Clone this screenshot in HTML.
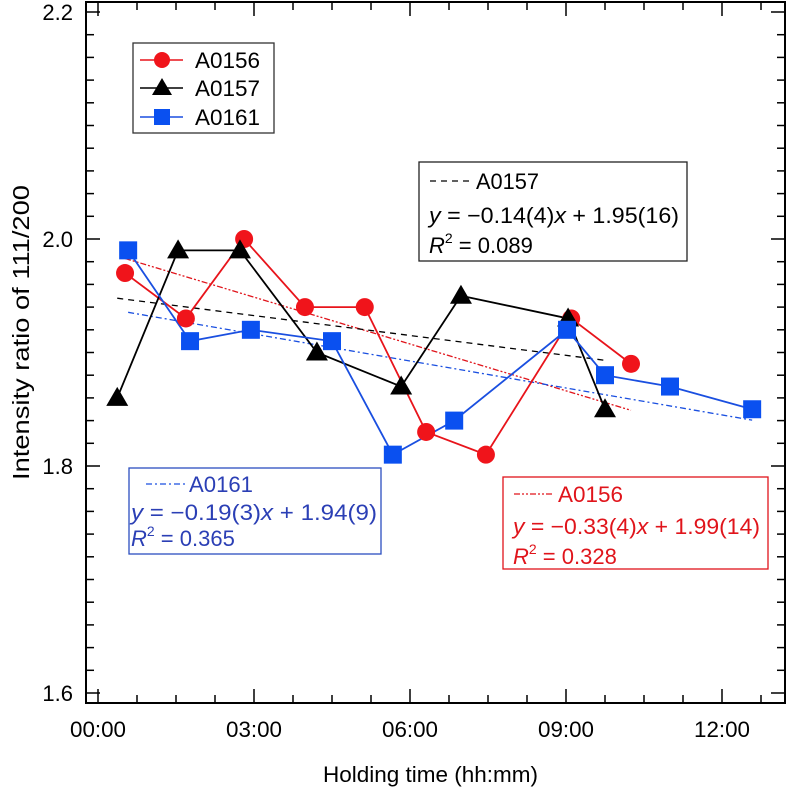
<!DOCTYPE html>
<html><head><meta charset="utf-8"><style>
html,body{margin:0;padding:0;background:#fff;}
svg{display:block;font-family:"Liberation Sans",Arial,sans-serif;}
</style></head><body>
<svg id="chart" width="788" height="788" viewBox="0 0 788 788" xmlns="http://www.w3.org/2000/svg">
<rect x="0" y="0" width="788" height="788" fill="#fff"/>
<g id="grid"></g>
<g id="fits"></g>
<g id="series"></g>
<rect x="86" y="2" width="699" height="701" fill="none" stroke="#000" stroke-width="2"/>
<text x="323" y="782" font-size="22" textLength="215" lengthAdjust="spacingAndGlyphs">Holding time (hh:mm)</text>
<text transform="translate(29,480) rotate(-90)" font-size="23" textLength="295" lengthAdjust="spacingAndGlyphs">Intensity ratio of 111/200</text>

<g>
<rect x="133" y="43" width="141" height="90" fill="#fff" stroke="#333" stroke-width="1.3"/>
<g><line x1="140" y1="60" x2="183" y2="60" stroke="#e8141b" stroke-width="1.5"/><circle cx="162" cy="60" r="8" fill="#f0141b"/><text x="195" y="68" font-size="22" textLength="65" lengthAdjust="spacingAndGlyphs">A0156</text></g>
<g><line x1="140" y1="88" x2="183" y2="88" stroke="#000" stroke-width="1.5"/><polygon points="162,78 172,95 152,95" fill="#000"/><text x="195" y="96" font-size="22" textLength="65" lengthAdjust="spacingAndGlyphs">A0157</text></g>
<g><line x1="140" y1="117" x2="183" y2="117" stroke="#1a4fe0" stroke-width="1.5"/><rect x="154" y="109" width="16" height="16" fill="#0a50f0"/><text x="195" y="125" font-size="22" textLength="65" lengthAdjust="spacingAndGlyphs">A0161</text></g>
</g>

<g>
<rect x="419" y="162" width="268" height="99" fill="#fff" stroke="#222" stroke-width="1.3"/>
<line x1="430" y1="181" x2="470" y2="181" stroke="#000" stroke-width="1.3" stroke-dasharray="6,5"/>
<text x="476" y="189" font-size="22" textLength="63" lengthAdjust="spacingAndGlyphs">A0157</text>
<text x="429" y="223" font-size="22" textLength="250" lengthAdjust="spacingAndGlyphs"><tspan font-style="italic">y</tspan> = −0.14(4)<tspan font-style="italic">x</tspan> + 1.95(16)</text>
<text x="429" y="253" font-size="22"><tspan font-style="italic">R</tspan><tspan font-size="14" dy="-10">2</tspan><tspan dy="10"> = 0.089</tspan></text>
</g>
<g fill="#2b3fb5">
<rect x="129" y="468" width="252" height="86" fill="#fff" stroke="#2b4fc0" stroke-width="1.3"/>
<line x1="146" y1="484" x2="186" y2="484" stroke="#1a4fe0" stroke-width="1.3" stroke-dasharray="6,3,2,3"/>
<text x="189" y="492" font-size="22" textLength="64" lengthAdjust="spacingAndGlyphs">A0161</text>
<text x="131" y="520" font-size="22" textLength="246" lengthAdjust="spacingAndGlyphs"><tspan font-style="italic">y</tspan> = −0.19(3)<tspan font-style="italic">x</tspan> + 1.94(9)</text>
<text x="131" y="546" font-size="22"><tspan font-style="italic">R</tspan><tspan font-size="14" dy="-10">2</tspan><tspan dy="10"> = 0.365</tspan></text>
</g>
<g fill="#e0141b">
<rect x="503" y="477" width="265" height="92" fill="#fff" stroke="#e0141b" stroke-width="1.3"/>
<line x1="514" y1="494" x2="554" y2="494" stroke="#e0141b" stroke-width="1.3" stroke-dasharray="6,2,2,2,2,2"/>
<text x="558" y="502" font-size="22" textLength="65" lengthAdjust="spacingAndGlyphs">A0156</text>
<text x="513" y="534" font-size="22" textLength="247" lengthAdjust="spacingAndGlyphs"><tspan font-style="italic">y</tspan> = −0.33(4)<tspan font-style="italic">x</tspan> + 1.99(14)</text>
<text x="513" y="564" font-size="22"><tspan font-style="italic">R</tspan><tspan font-size="14" dy="-10">2</tspan><tspan dy="10"> = 0.328</tspan></text>
</g>
</svg>
<script>
// data (hours, ratio)
const hoursA0156 = [0.52,1.69,2.81,3.98,5.13,6.31,7.46,9.10,10.25];
const valuesA0156 = [1.97,1.93,2.00,1.94,1.94,1.83,1.81,1.93,1.89];
const hoursA0157 = [0.37,1.54,2.73,4.21,5.83,6.98,9.04,9.75];
const valuesA0157 = [1.86,1.99,1.99,1.90,1.87,1.95,1.93,1.85];
const hoursA0161 = [0.58,1.77,2.94,4.50,5.67,6.85,9.02,9.75,11.0,12.58];
const valuesA0161 = [1.99,1.91,1.92,1.91,1.81,1.84,1.92,1.88,1.87,1.85];
const fitSlopes = [-0.33,-0.14,-0.19];     // per day
const fitIntercepts = [1.99,1.95,1.94];
const xTickLabels = ["00:00","03:00","06:00","09:00","12:00"];
const yTickLabels = ["1.6","1.8","2.0","2.2"];

const NS="http://www.w3.org/2000/svg";
function xs(h){return 98+h*52;}
function ys(v){return 466-(v-1.8)*1135;}
function mk(tag,attrs,parent){const e=document.createElementNS(NS,tag);for(const k in attrs)e.setAttribute(k,attrs[k]);parent.appendChild(e);return e;}

const grid=document.getElementById('grid');
for(let i=0;i*0.75<=13.2;i++){
  const h=i*0.75,x=xs(h),major=(i%4===0),len=major?14:8;
  const t=mk('line',{x1:x,y1:703,x2:x,y2:703-len,stroke:'#000','stroke-width':1.5},grid);
  
  
  const t2=mk('line',{x1:x,y1:2,x2:x,y2:2+len,stroke:'#000','stroke-width':1.5},grid);
  
  
}
xTickLabels.forEach((s,i)=>{
  const t=mk('text',{x:xs(i*3),y:737,'font-size':22,'text-anchor':'middle',textLength:56,lengthAdjust:'spacingAndGlyphs'},grid);
  t.textContent=s;
  
  
});
for(let i=0;i<=30;i++){
  const v=1.6+i*0.02,y=ys(v),major=(i%10===0),len=major?14:8;
  const t=mk('line',{x1:86,y1:y,x2:86+len,y2:y,stroke:'#000','stroke-width':1.5},grid);
  
  
  const t2=mk('line',{x1:785,y1:y,x2:785-len,y2:y,stroke:'#000','stroke-width':1.5},grid);
  
  
}
yTickLabels.forEach(s=>{
  const t=mk('text',{x:73,y:ys(parseFloat(s))+8,'font-size':22,'text-anchor':'end'},grid);
  t.textContent=s;
  
  
});

const fits=document.getElementById('fits');
const fitData=[[hoursA0156,'#e0141b','6,2,2,2,2,2','fit-line-a0156'],[hoursA0157,'#000','6,5','fit-line-a0157'],[hoursA0161,'#1a4fe0','6,3,2,3','fit-line-a0161']];
fitData.forEach((f,i)=>{
  const h0=f[0][0],h1=f[0][f[0].length-1];
  const v0=fitIntercepts[i]+fitSlopes[i]*h0/24,v1=fitIntercepts[i]+fitSlopes[i]*h1/24;
  const l=mk('line',{x1:xs(h0),y1:ys(v0),x2:xs(h1),y2:ys(v1),stroke:f[1],'stroke-width':1.3,'stroke-dasharray':f[2]},fits);
  
  
});

const ser=document.getElementById('series');
function line(hs,vs,col,name){
  const p=mk('polyline',{points:hs.map((h,i)=>xs(h)+','+ys(vs[i])).join(' '),fill:'none',stroke:col,'stroke-width':1.8},ser);
  
  
}
line(hoursA0156,valuesA0156,'#e8141b','line-a0156');
line(hoursA0157,valuesA0157,'#000','line-a0157');
line(hoursA0161,valuesA0161,'#1a4fe0','line-a0161');
hoursA0156.forEach((h,i)=>{
  const c=mk('circle',{cx:xs(h),cy:ys(valuesA0156[i]),r:9,fill:'#f0141b'},ser);
  
  
});
hoursA0157.forEach((h,i)=>{
  const x=xs(h),y=ys(valuesA0157[i]);
  const p=mk('polygon',{points:`${x},${y-11} ${x+11},${y+8} ${x-11},${y+8}`,fill:'#000'},ser);
  
  
});
hoursA0161.forEach((h,i)=>{
  const r=mk('rect',{x:xs(h)-9,y:ys(valuesA0161[i])-9,width:18,height:18,fill:'#0a50f0'},ser);
  
  
});
</script>
</body></html>
